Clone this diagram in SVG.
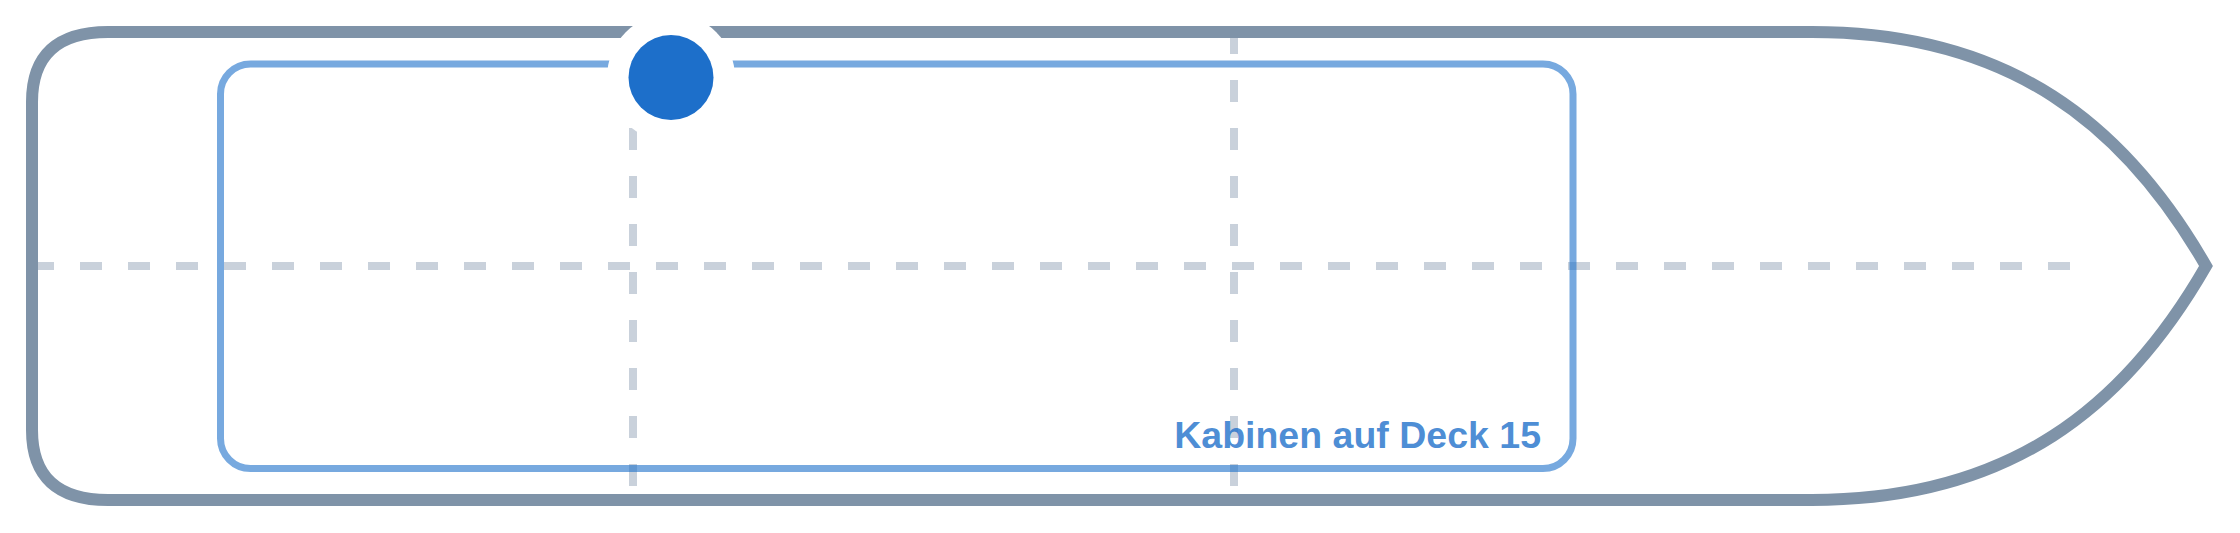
<svg xmlns="http://www.w3.org/2000/svg" width="2240" height="533" viewBox="0 0 2240 533">
  <style>
    .guide { fill: none; stroke: #94a3b8; stroke-opacity: 0.5; stroke-width: 8; stroke-dasharray: 22 26; }
    .hull { fill: none; stroke: #7f93a8; stroke-width: 12; stroke-linejoin: miter; }
    .area { fill: none; stroke: #1d6fca; stroke-opacity: 0.6; stroke-width: 7; }
    .label { font-family: "Liberation Sans", Arial, sans-serif; font-weight: bold; font-size: 37.5px; fill: #1d6fca; fill-opacity: 0.8; text-anchor: end; }
  </style>
  <rect width="2240" height="533" fill="#ffffff"/>
  <g id="guides">
    <line class="guide" x1="32" y1="266" x2="2070" y2="266"/>
    <line class="guide" x1="633" y1="32" x2="633" y2="500"/>
    <line class="guide" x1="1234" y1="32" x2="1234" y2="500"/>
  </g>
  <g id="hull">
    <path class="hull" d="M 108 32 L 1812 32 C 2010 32 2125 125 2206 266 C 2125 407 2010 500 1812 500 L 108 500 Q 32 500 32 430 L 32 102 Q 32 32 108 32 Z"/>
  </g>
  <g id="cabin-area">
    <rect class="area" x="220.5" y="64" width="1352.5" height="404.5" rx="30" ry="30"/>
    <text class="label" x="1541" y="448">Kabinen auf Deck 15</text>
  </g>
  <g id="marker">
    <circle cx="671" cy="77.5" r="64" fill="#ffffff"/>
    <circle cx="671" cy="77.5" r="42.5" fill="#1d6fca"/>
  </g>
</svg>
